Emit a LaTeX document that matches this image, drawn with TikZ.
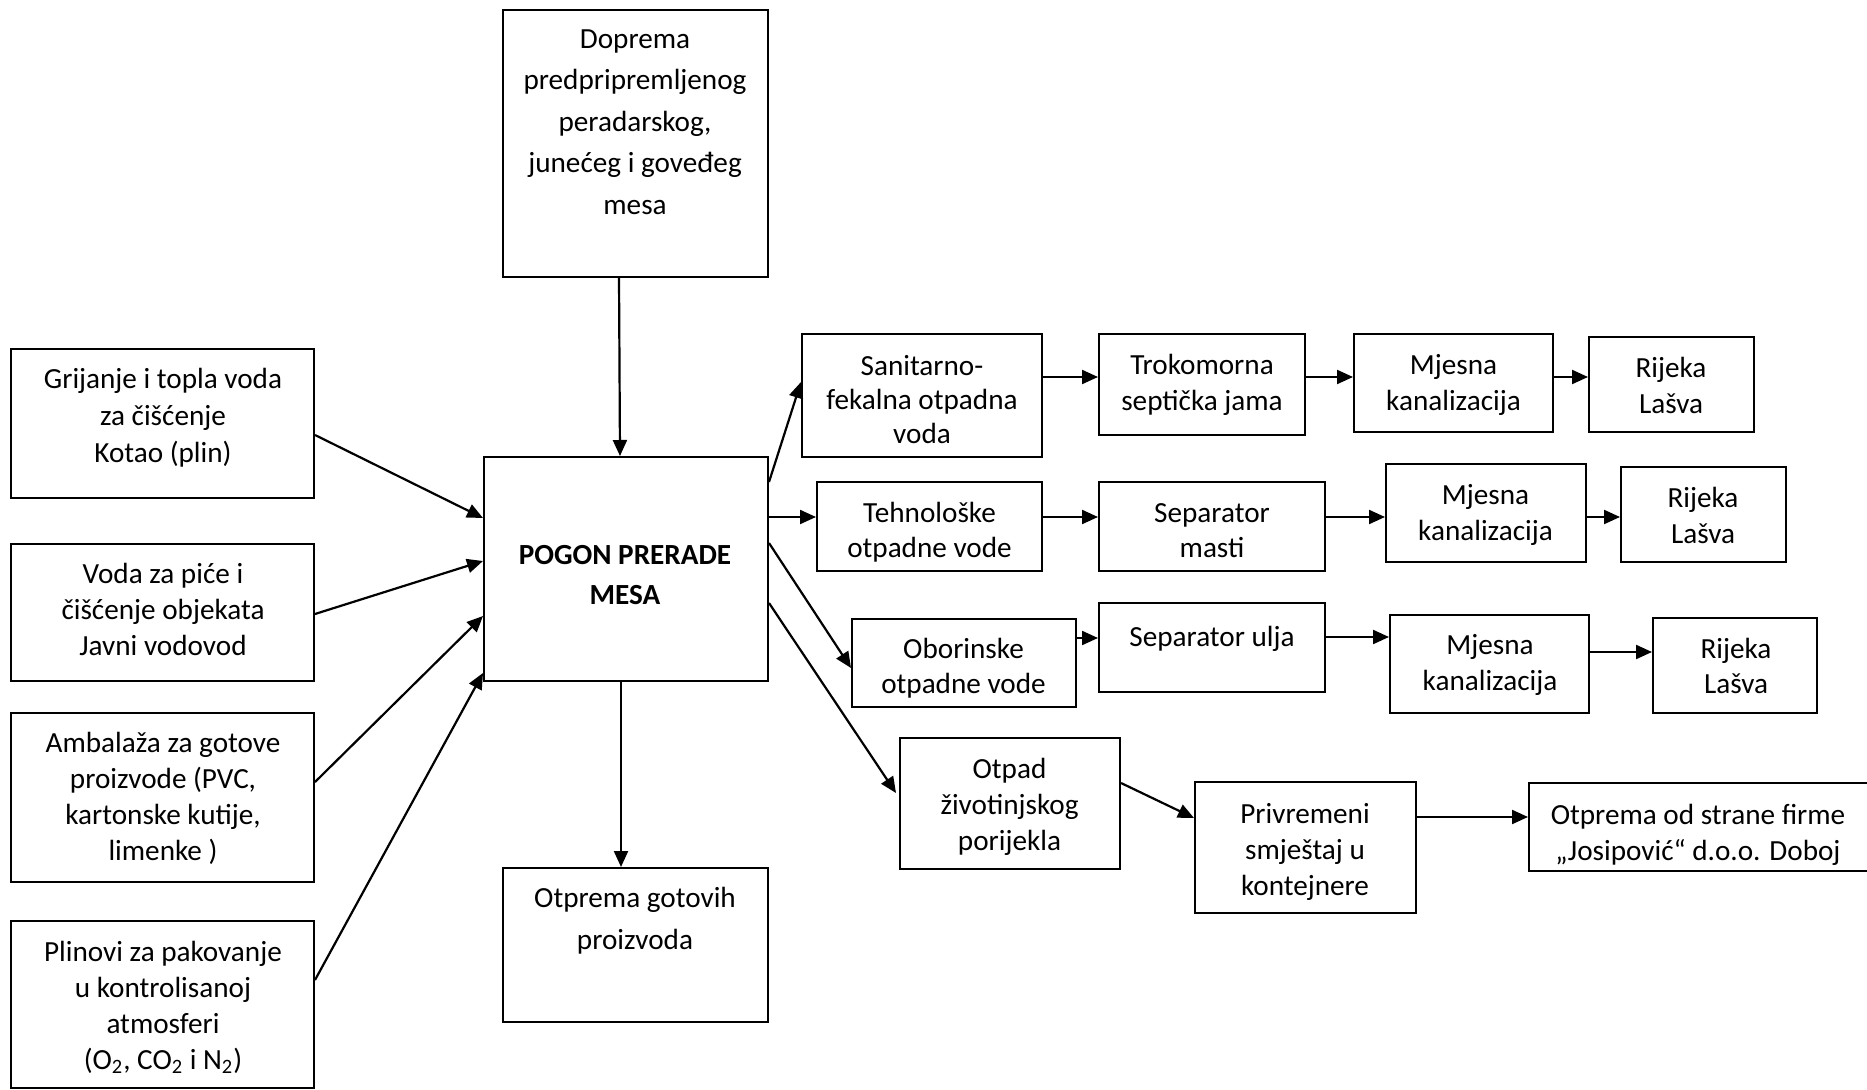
\documentclass[tikz,border=0pt]{standalone}
\usepackage{fontspec}
\setmainfont{Carlito}
\usetikzlibrary{arrows.meta,fit,calc}
\begin{document}
\begin{tikzpicture}[x=0.5pt,y=-0.5pt,
  box/.style={draw,line width=1pt,inner sep=0pt,rectangle},
  txt/.style={align=center,inner sep=0pt,yshift=-3pt,font=\fontsize{14.6}{18}\selectfont,
    execute at begin node=\strut,execute at end node=\strut},
  arr/.style={-{Triangle[length=8pt,width=7pt]},line width=1.1pt}]
\useasboundingbox[fill=white] (0,0) rectangle (1867,1090);
% boxes
\node[box,fit={(503,10) (768,277)}] (dop) {};
\node[box,fit={(11,349) (314,498)}] (gri) {};
\node[box,fit={(11,544) (314,681)}] (vod) {};
\node[box,fit={(11,713) (314,882)}] (amb) {};
\node[box,fit={(11,921) (314,1088)}] (pli) {};
\node[box,fit={(484,457) (768,681)}] (main) {};
\node[box,fit={(503,868) (768,1022)}] (otg) {};
\node[box,fit={(802,334) (1042,457)}] (san) {};
\node[box,fit={(1099,334) (1305,435)}] (tro) {};
\node[box,fit={(1354,334) (1553,432)}] (mja) {};
\node[box,fit={(1589,337) (1754,432)}] (rija) {};
\node[box,fit={(817,482) (1042,571)}] (teh) {};
\node[box,fit={(1099,482) (1325,571)}] (sepm) {};
\node[box,fit={(1386,464) (1586,562)}] (mjb) {};
\node[box,fit={(1621,467) (1786,562)}] (rijb) {};
\node[box,fit={(852,619) (1076,707)}] (obo) {};
\node[box,fit={(1099,603) (1325,692)}] (sepu) {};
\node[box,fit={(1390,615) (1589,713)}] (mjc) {};
\node[box,fit={(1653,618) (1817,713)}] (rijc) {};
\node[box,fit={(900,738) (1120,869)}] (otp) {};
\node[box,fit={(1195,782) (1416,913)}] (pri) {};
\node[box,fit={(1529,783) (1874,871)}] (otf) {};
% texts
\node[txt,font=\fontsize{14.6}{20.75}\selectfont] (dopT) at (635,122) {Doprema\\predpripremljenog\\peradarskog,\\junećeg i goveđeg\\mesa};
\node[txt,font=\fontsize{14.6}{18.5}\selectfont] (griT) at (163,415) {Grijanje i topla voda\\za čišćenje\\Kotao (plin)};
\node[txt] (vodT) at (163,608.5) {Voda za piće i\\čišćenje objekata\\Javni vodovod};
\node[txt] (ambT) at (163,796) {Ambalaža za gotove\\proizvode (PVC,\\kartonske kutije,\\limenke )};
\node[txt] (pliT) at (163,1004.5) {Plinovi za pakovanje\\u kontrolisanoj\\atmosferi\\(O\textsubscript{2}, CO\textsubscript{2} i N\textsubscript{2})};
\node[txt,font=\bfseries\fontsize{14.6}{20}\selectfont] (mainT) at (625,574.5) {POGON PRERADE\\MESA};
\node[txt,font=\fontsize{14.6}{21}\selectfont] (otgT) at (635,919) {Otprema gotovih\\proizvoda};
\node[txt,font=\fontsize{14.6}{17}\selectfont] (sanT) at (922,399) {Sanitarno-\\fekalna otpadna\\voda};
\node[txt] (troT) at (1202,381.5) {Trokomorna\\septička jama};
\node[txt] (mjaT) at (1453.5,381.5) {Mjesna\\kanalizacija};
\node[txt] (rijaT) at (1671,385) {Rijeka\\Lašva};
\node[txt,font=\fontsize{14.6}{17.5}\selectfont] (tehT) at (929.5,529.5) {Tehnološke\\otpadne vode};
\node[txt,font=\fontsize{14.6}{17.5}\selectfont] (sepmT) at (1212,529.5) {Separator\\masti};
\node[txt] (mjbT) at (1485.5,511.5) {Mjesna\\kanalizacija};
\node[txt] (rijbT) at (1703,515) {Rijeka\\Lašva};
\node[txt,font=\fontsize{14.6}{17.5}\selectfont] (oboT) at (963.5,665.5) {Oborinske\\otpadne vode};
\node[txt] (sepuT) at (1212,633) {Separator ulja};
\node[txt] (mjcT) at (1490,661.5) {Mjesna\\kanalizacija};
\node[txt,font=\fontsize{14.6}{17.5}\selectfont] (rijcT) at (1736,665.5) {Rijeka\\Lašva};
\node[txt] (otpT) at (1009.5,804) {Otpad\\životinjskog\\porijekla};
\node[txt] (priT) at (1305,849) {Privremeni\\smještaj u\\kontejnere};
\node[txt] (otfT) at (1698,831.5) {Otprema od strane firme\\„Josipović“ d.o.o. Doboj};
% connectors
\draw[arr] ($(dop.south)+(-16.5,0)$) -- ($(main.north)+(-6,0)$);
\draw[arr] ($(gri.east)+(0,11.5)$) -- ($(main.west)+(0,-51)$);
\draw[arr] ($(vod.east)+(0,1.5)$) -- ($(main.west)+(0,-8)$);
\draw[arr] ($(amb.east)+(0,-15.5)$) -- ($(main.west)+(0,47)$);
\draw[arr] ($(pli.east)+(0,-24.5)$) -- ($(main.south west)+(0,-9)$);
\draw[arr] ($(main.south)+(-5,0)$) -- ($(otg.north)+(-14.5,0)$);
\draw[arr] ($(main.east)+(0,-87)$) -- ($(san.west)+(0,-13.5)$);
\draw[arr] ($(main.east)+(0,-52)$) -- ($(teh.west)+(0,-9.5)$);
\draw[arr] ($(main.east)+(0,-26)$) -- ($(obo.west)+(0,5)$);
\draw[arr] ($(main.east)+(0,34)$) -- ($(otp.west)+(-3,-10.5)$);
\draw[arr] ($(san.east)+(0,-18.5)$) -- ($(tro.west)+(0,-7.5)$);
\draw[arr] ($(tro.east)+(0,-7.5)$) -- ($(mja.west)+(0,-6)$);
\draw[arr] ($(mja.east)+(0,-6)$) -- ($(rija.west)+(0,-7.5)$);
\draw[arr] ($(teh.east)+(0,-9.5)$) -- ($(sepm.west)+(0,-9.5)$);
\draw[arr] ($(sepm.east)+(0,-9.5)$) -- ($(mjb.west)+(0,4)$);
\draw[arr] ($(mjb.east)+(0,4)$) -- ($(rijb.west)+(0,2.5)$);
\draw[arr] ($(obo.east)+(0,-25)$) -- ($(sepu.west)+(0,-9.5)$);
\draw[arr] ($(sepu.east)+(0,-10.5)$) -- ($(mjc.west)+(0,-27)$);
\draw[arr] ($(mjc.east)+(0,-12)$) -- ($(rijc.west)+(0,-13.5)$);
\draw[arr] ($(otp.east)+(0,-20.5)$) -- ($(pri.west)+(0,-29.5)$);
\draw[arr] ($(pri.east)+(0,-30.5)$) -- ($(otf.west)+(0,-10)$);
\end{tikzpicture}
\end{document}
